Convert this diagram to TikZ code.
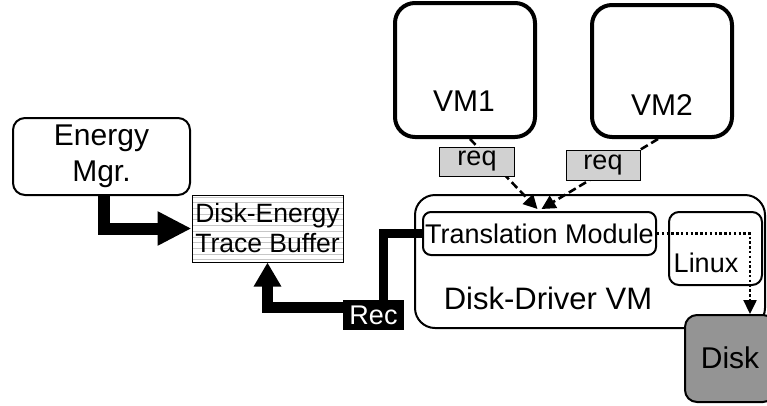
\documentclass[tikz,border=0pt]{standalone}
\usepackage{fontspec}
\setmainfont{Liberation Sans}
\usetikzlibrary{arrows.meta,calc}
\begin{document}
\begin{tikzpicture}[x=1pt,y=-1pt,
  txt/.style={font=\fontsize{27}{30}\selectfont},
  bigtxt/.style={font=\fontsize{30}{36}\selectfont},
  vmbox/.style={draw,line width=4pt,rounded corners=20pt,minimum width=140pt,minimum height=134pt,inner sep=0pt},
  reqbox/.style={draw,line width=1pt,fill=black!18,minimum width=75pt,minimum height=29pt,inner sep=0pt,txt},
  rbox/.style={draw,line width=2pt,inner sep=0pt},
  dasharr/.style={line width=2.6pt,dash pattern=on 8pt off 4pt,-{Triangle[length=14pt,width=14pt]}},
  dotarr/.style={line width=2.4pt,dash pattern=on 2.4pt off 2.4pt,-{Triangle[length=14pt,width=13pt]}}
]
\useasboundingbox (0,0) rectangle (767,405);

% VMs
\node[vmbox] (vm1) at (465,70) {};
\node[bigtxt] (vm1t) at (464,101) {VM1};
\node[vmbox,minimum height=132pt] (vm2) at (662,71) {};
\node[bigtxt] (vm2t) at (662,105) {VM2};

% Disk-Driver VM
\node[rbox,rounded corners=20pt,minimum width=350pt,minimum height=133pt] (ddvm) at (590,261.5) {};
\node[font=\fontsize{31}{36}\selectfont] (ddvmt) at (548,298) {Disk-Driver VM};
\node[rbox,rounded corners=8pt,minimum width=233pt,minimum height=43pt,txt] (tm) at (539.5,233.5) {Translation Module};
\node[rbox,rounded corners=10pt,minimum width=93pt,minimum height=73pt] (linux) at (715.5,248.5) {};
\node[txt] (linuxt) at (706,263) {Linux};

% Disk
\node[rbox,rounded corners=12pt,fill=black!42,minimum width=90pt,minimum height=87pt] (disk) at (730,358.5) {};
\node[bigtxt] (diskt) at (730,358) {Disk};

% Energy Mgr
\node[rbox,rounded corners=12pt,minimum width=177pt,minimum height=77pt,align=center,font=\fontsize{30}{36}\selectfont] (emgr) at (101.5,156.5) {Energy\\Mgr.};

% Buffer stripes
\begin{scope}
\clip (192,195) rectangle (343,262);
\foreach \yy in {197,202.7,...,262} {\draw[black!22,line width=0.8pt] (192,\yy) -- (343,\yy);}
\end{scope}
\node[draw,line width=1pt,minimum width=151pt,minimum height=67pt,inner sep=0pt,align=center,font=\fontsize{26.5}{30}\selectfont] (buf) at (267.5,228.5) {Disk-Energy\\Trace Buffer};

% Rec
\node[fill=black,text=white,minimum width=61pt,minimum height=30pt,inner sep=0pt,txt] (rec) at (373.5,315) {Rec};

% Thick connectors
\draw[line width=12pt,-{Triangle[length=34pt,width=32pt]}] ($(emgr.south)+(2,0)$) |- (buf.west);
\coordinate (recup) at ($(rec.north)+(9.5,0)$);
\draw[line width=9pt] (tm.west) -| (recup);
\coordinate (recl) at ($(rec.west)+(0,-8)$);
\draw[line width=11pt,-{Triangle[length=24pt,width=26pt]}] (recl) -| (buf.south);

% Dashed request arrows
\draw[dasharr] ($(vm1.south)+(5,0)$) -- ($(tm.north)+(-2,-2)$);
\draw[dasharr] ($(vm2.south)+(-4,0)$) -- ($(tm.north)+(2,-2)$);
\node[reqbox] (req1) at (477,161.5) {req};
\node[reqbox,minimum width=74pt,minimum height=30pt] (req2) at (603,165) {req};

% Dotted arrow to disk
\coordinate (dtop) at ($(disk.north)+(20,0)$);
\draw[dotarr] (tm.east) -| (dtop);
\end{tikzpicture}
\end{document}
